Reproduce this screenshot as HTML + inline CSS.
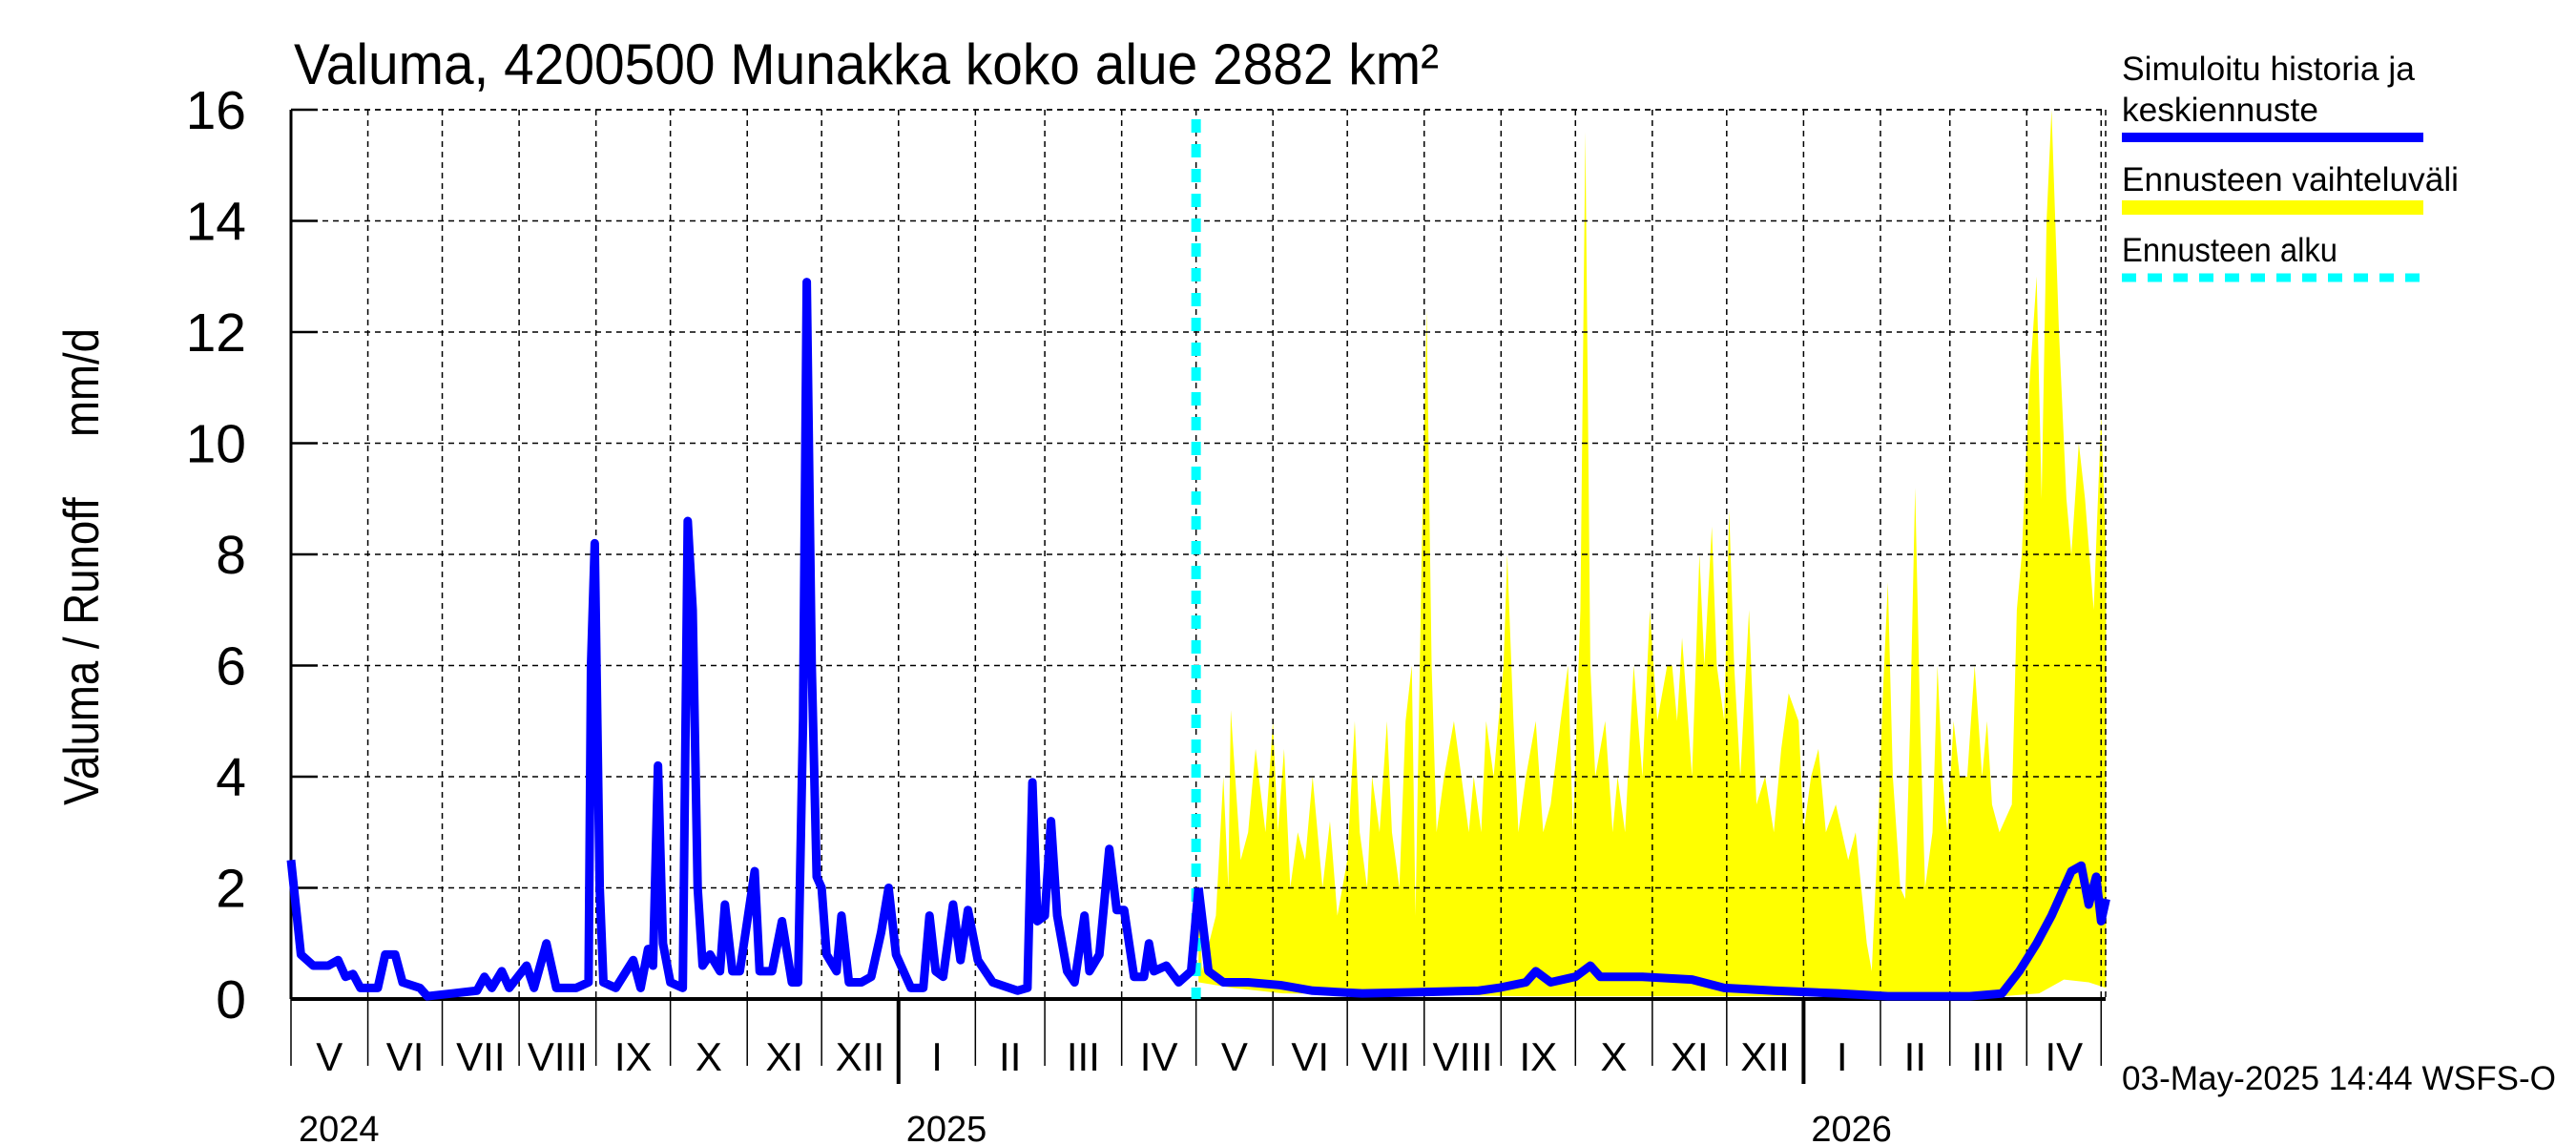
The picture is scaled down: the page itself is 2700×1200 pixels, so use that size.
<!DOCTYPE html>
<html><head><meta charset="utf-8"><style>
html,body{margin:0;padding:0;background:#fff;}
svg{display:block;font-family:"Liberation Sans",Arial,sans-serif;}
</style></head><body>
<svg id="chart" width="2700" height="1200" viewBox="0 0 2700 1200" xmlns="http://www.w3.org/2000/svg">
<rect x="0" y="0" width="2700" height="1200" fill="#fff"/>
<text x="308" y="88" font-size="60" textLength="1200" lengthAdjust="spacingAndGlyphs">Valuma, 4200500 Munakka koko alue 2882 km²</text>
<text transform="translate(103,594) rotate(-90)" font-size="52" text-anchor="middle" textLength="500" lengthAdjust="spacingAndGlyphs" xml:space="preserve">Valuma / Runoff     mm/d</text>
<g id="band"></g>
<g id="grid"></g>
<g id="axes"></g>
<g id="series"></g>
<g>
 <text x="2224" y="84" font-size="35" textLength="307" lengthAdjust="spacingAndGlyphs">Simuloitu historia ja</text>
 <text x="2224" y="127" font-size="35" textLength="206" lengthAdjust="spacingAndGlyphs">keskiennuste</text>
 <rect x="2224" y="139" width="316" height="10" fill="#0000ff"/>
 <text x="2224" y="200" font-size="35" textLength="353" lengthAdjust="spacingAndGlyphs">Ennusteen vaihteluväli</text>
 <rect x="2224" y="210" width="316" height="15" fill="#ffff00"/>
 <text x="2224" y="274" font-size="35" textLength="226" lengthAdjust="spacingAndGlyphs">Ennusteen alku</text>
 <line x1="2224" y1="291" x2="2540" y2="291" stroke="#00ffff" stroke-width="9" stroke-dasharray="15,12"/>
</g>
<text x="2224" y="1142" font-size="35" textLength="455" lengthAdjust="spacingAndGlyphs">03-May-2025 14:44 WSFS-O</text>
</svg>
<script>
// data (days since 2024-05-01, values mm/d)
const histDays=[0,4,9,15,19,22,25,28,35,38,42,45,52,55,65,75,78,81,85,88,95,98,103,107,115,120,121,122.5,124.5,126,131,138,141,144,146,148,150,153,158,160,162,164,166,169,173,175,178,181,187,189,194,198,202,204.5,206.5,208,210,212,214,216,220,222,225,230,234,238,241,244,250,255,257.5,260,263,267,270,273,277,283,293,297,299,301,304,306.5,309,313,316,320,322,326,330,333,336,340,344,346,348,353,358,363,366];
const histVals=[2.5,0.8,0.6,0.6,0.7,0.4,0.45,0.2,0.2,0.8,0.8,0.3,0.2,0.05,0.1,0.15,0.4,0.2,0.5,0.2,0.6,0.2,1.0,0.2,0.2,0.3,6,8.2,2,0.3,0.2,0.7,0.2,0.9,0.6,4.2,1,0.3,0.2,8.6,7,2,0.6,0.8,0.5,1.7,0.5,0.5,2.3,0.5,0.5,1.4,0.3,0.3,5,12.9,6,2.2,2.0,0.8,0.5,1.5,0.3,0.3,0.4,1.2,2.0,0.8,0.2,0.2,1.5,0.5,0.4,1.7,0.7,1.6,0.7,0.3,0.15,0.2,3.9,1.4,1.5,3.2,1.5,0.5,0.3,1.5,0.5,0.8,2.7,1.6,1.6,0.4,0.4,1.0,0.5,0.6,0.3,0.5,2.0];
const meanDays=[366,370,376,386,399,412,432,452,479,487,498,502,508,518,524,528,545,565,578,598,624,644,677,690,697,704,710,718,722,725,728,730,732];
const meanVals=[2.0,0.5,0.3,0.3,0.25,0.15,0.1,0.12,0.15,0.2,0.3,0.5,0.3,0.4,0.6,0.4,0.4,0.35,0.2,0.15,0.1,0.05,0.05,0.1,0.5,1.0,1.5,2.3,2.4,1.7,2.2,1.4,1.8];
const upDays=[366,367.4,373,376,378,379,383,386,389,393,396,398,400.5,403,406,409,412,416,419,422,426,429,431,434,436,439,442,444,447,449.5,452,453.5,456,458,460,462,465,469,472,475,477,480,482,485,489,490.5,493,495,498,502,505,508,512,515,517,520,522,524,526,530,533,535,538,541.5,545,548,551,555,557,559,561,565,568,570,573,575,578,580,582,584.5,588,591,594.5,598,601,604,608,610,613,616,619,623,628,631,635.5,637.5,640,642,644,646,649,651,653,655,657,659,662,664,666,668,670.5,673,676,679,682,684,686,689,694,696,698,701,704,706,708,710,713,716,718,721,723.5,727,730,732];
const upVals=[2.0,0.5,1.5,4,2,5.2,2.5,3,4.5,3,5.0,3,4.5,2,3,2.5,4,2,3.2,1.5,2.5,5,3,2,4,3,5,3,2,5,6,1.5,8,12.4,6,3,4,5,4,3,4,3,5,4,6,8,5,3,4,5,3,3.5,5,6,3,7,15.6,6,4,5,3,4,3,6,4,7,5,6,6,5,6.5,4,8,6,8.5,6,5,8.8,6,4,7,3.5,4,3,4.5,5.5,5,3,4,4.5,3,3.5,2.5,3,1,0.5,3,5.5,7.5,4,2,1.8,5,9.2,5,2,3,6,4,3,5,4,4,6,4,5,3.5,3,3.5,7,8,11,13,9,14,16,12,9,8,10,9,7,10.5,8];
const lowDays=[366,380,400,500,600,690,705,715,725,732];
const lowVals=[0.3,0.2,0.1,0.05,0.05,0.05,0.1,0.35,0.3,0.2];
const yTicks=[0,2,4,6,8,10,12,14,16];
const monthStarts=[0,31,61,92,123,153,184,214,245,276,304,335,365,396,426,457,488,518,549,579,610,641,669,700,730];
const monthLabels=["V","VI","VII","VIII","IX","X","XI","XII","I","II","III","IV","V","VI","VII","VIII","IX","X","XI","XII","I","II","III","IV"];
const yearDays=[0,245,610];
const yearLabels=["2024","2025","2026"];
const forecastStart=365;

const X0=305,PXD=2.599,Y0=1047,PYU=58.25,XR=2207,YT=Y0-16*PYU;
const xs=d=>X0+d*PXD, ys=v=>Y0-v*PYU;
const NS="http://www.w3.org/2000/svg";
function mk(parent,tag,attrs){const e=document.createElementNS(NS,tag);for(const k in attrs)e.setAttribute(k,attrs[k]);document.getElementById(parent).appendChild(e);return e;}

let pts=upDays.map((d,i)=>xs(d)+","+ys(upVals[i]));
for(let i=lowDays.length-1;i>=0;i--)pts.push(xs(lowDays[i])+","+ys(lowVals[i]));
let b=mk("band","polygon",{points:pts.join(" "),fill:"#ffff00"});



yTicks.forEach(v=>{
 if(v>0){let g=mk("grid","line",{x1:X0,y1:ys(v),x2:XR,y2:ys(v),stroke:"#000","stroke-width":1.5,"stroke-dasharray":"6,5"});
 
 }
 let t=mk("axes","line",{x1:X0,y1:ys(v),x2:X0+28,y2:ys(v),stroke:"#000","stroke-width":2.5});
 
 
 let l=mk("axes","text",{x:258,y:ys(v)+20,"font-size":57,"text-anchor":"end"});
 l.textContent=v;
 
 
});
monthStarts.forEach((d,i)=>{
 if(i>0){let g=mk("grid","line",{x1:xs(d),y1:YT,x2:xs(d),y2:Y0,stroke:"#000","stroke-width":1.5,"stroke-dasharray":"6,5"});
 
 }
 let isYear=yearDays.includes(d)&&d>0;
 let t=mk("axes","line",{x1:xs(d),y1:Y0,x2:xs(d),y2:isYear?1136:1117,stroke:"#000","stroke-width":isYear?4:1.5});
 
 
 if(i<monthLabels.length){
  let l=mk("axes","text",{x:(xs(d)+xs(monthStarts[i+1]))/2,y:1122,"font-size":42,"text-anchor":"middle"});
  l.textContent=monthLabels[i];
  
  
 }
});
yearDays.forEach((d,i)=>{
 let l=mk("axes","text",{x:xs(d)+8,y:1196,"font-size":38});
 l.textContent=yearLabels[i];
 
 
});
let tb=mk("grid","line",{x1:X0,y1:YT,x2:XR,y2:YT,stroke:"#000","stroke-width":1.5,"stroke-dasharray":"6,5"});


let rb=mk("grid","line",{x1:XR,y1:YT,x2:XR,y2:Y0,stroke:"#000","stroke-width":1.5,"stroke-dasharray":"6,5"});


let ax=mk("axes","line",{x1:X0,y1:YT,x2:X0,y2:Y0,stroke:"#000","stroke-width":3});


let bx=mk("axes","line",{x1:X0,y1:Y0,x2:XR,y2:Y0,stroke:"#000","stroke-width":4});



let fl=mk("series","line",{x1:xs(forecastStart),y1:YT+10,x2:xs(forecastStart),y2:Y0,stroke:"#00ffff","stroke-width":10,"stroke-dasharray":"14,12"});


let hl=mk("series","polyline",{points:histDays.map((d,i)=>xs(d)+","+ys(histVals[i])).join(" "),fill:"none",stroke:"#0000ff","stroke-width":9,"stroke-linejoin":"round"});


let ml=mk("series","polyline",{points:meanDays.map((d,i)=>xs(d)+","+ys(meanVals[i])).join(" "),fill:"none",stroke:"#0000ff","stroke-width":9,"stroke-linejoin":"round"});


</script>
</body></html>
